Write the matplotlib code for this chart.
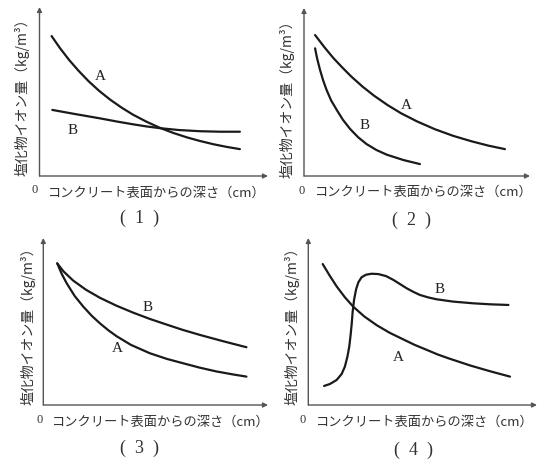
import matplotlib
matplotlib.use("Agg")
import matplotlib.pyplot as plt

plt.rcParams['font.family'] = ['Noto Sans CJK JP', 'DejaVu Sans']

W, H = 538, 461

# ---- data (arbitrary units) ----
# Panel (1)
p1_A_x = [0.53, 0.90, 1.30, 1.70, 2.14, 2.60, 3.09, 3.60, 4.09, 4.70,
          5.27, 5.85, 6.44, 7.00, 7.61, 8.20, 8.77]
p1_A_y = [8.28, 7.56, 6.86, 6.24, 5.62, 5.05, 4.52, 4.04, 3.63, 3.20,
          2.85, 2.55, 2.29, 2.08, 1.88, 1.72, 1.59]
p1_B_x = [0.56, 1.50, 2.65, 3.40, 4.09, 4.70, 5.27, 6.10, 7.02, 7.90, 8.77]
p1_B_y = [3.91, 3.68, 3.41, 3.22, 3.06, 2.93, 2.83, 2.72, 2.65, 2.62, 2.62]
# Panel (2)
p2_A_x = [0.49, 0.90, 1.30, 1.70, 2.10, 2.60, 3.10, 3.70, 4.30, 5.00,
          5.80, 6.60, 7.40, 8.15, 8.89]
p2_A_y = [8.39, 7.67, 7.02, 6.45, 5.91, 5.31, 4.78, 4.22, 3.73, 3.25,
          2.78, 2.39, 2.07, 1.81, 1.60]
p2_B_x = [0.49, 0.58, 0.71, 0.85, 1.00, 1.20, 1.45, 1.72, 2.04, 2.40,
          2.77, 3.20, 3.66, 4.40, 5.13]
p2_B_y = [7.60, 7.00, 6.31, 5.68, 5.12, 4.50, 3.93, 3.35, 2.80, 2.30,
          1.90, 1.55, 1.27, 0.95, 0.71]
# Panel (3)
p3_A_x = [0.62, 0.82, 1.04, 1.40, 1.78, 2.15, 2.52, 2.90, 3.26, 3.90,
          4.74, 5.50, 6.22, 6.95, 7.70, 8.40, 9.04]
p3_A_y = [8.48, 7.85, 7.29, 6.52, 5.89, 5.35, 4.89, 4.47, 4.12, 3.60,
          3.10, 2.76, 2.50, 2.24, 2.01, 1.84, 1.70]
p3_B_x = [0.62, 0.90, 1.33, 1.90, 2.52, 3.25, 4.00, 4.75, 5.48, 6.20,
          6.96, 8.00, 9.04]
p3_B_y = [8.48, 8.00, 7.45, 6.90, 6.42, 5.95, 5.53, 5.15, 4.82, 4.50,
          4.20, 3.82, 3.46]
# Panel (4)
p4_A_x = [0.63, 0.92, 1.24, 1.60, 1.97, 2.45, 2.99, 3.55, 4.15, 4.65,
          5.18, 5.65, 6.12, 7.07, 7.95, 8.82]
p4_A_y = [8.44, 7.78, 7.10, 6.45, 5.88, 5.30, 4.78, 4.33, 3.93, 3.60,
          3.30, 3.03, 2.80, 2.37, 2.02, 1.70]
p4_B_x = [0.69, 0.95, 1.24, 1.46, 1.60, 1.71, 1.79, 1.85, 1.90, 1.94,
          2.00, 2.09, 2.19, 2.33, 2.52, 2.77, 3.06, 3.40, 3.72, 4.00,
          4.30, 4.60, 4.88, 5.25, 5.61, 6.34, 7.21, 7.94, 8.75]
p4_B_y = [1.14, 1.26, 1.50, 1.86, 2.30, 2.89, 3.49, 4.19, 4.89, 5.59,
          6.29, 6.93, 7.35, 7.65, 7.80, 7.86, 7.84, 7.72, 7.49, 7.25,
          6.99, 6.77, 6.59, 6.44, 6.33, 6.19, 6.09, 6.03, 5.99]

panel_titles = ['(  1  )', '(  2  )', '(  3  )', '(  4  )']
xlabel_text = 'コンクリート表面からの深さ（cm）'
ylabel_text = '塩化物イオン量（kg/m³）'
series_names = ['A', 'B']

panels = [
    dict(A=(p1_A_x, p1_A_y), B=(p1_B_x, p1_B_y),
         box=(39.5, 176, 268, 7), labA=(2.65, 5.86), labB=(1.47, 2.72),
         ylab=(22, 94), xlab=(157, 193), zero=(35, 190), title=(140, 218)),
    dict(A=(p2_A_x, p2_A_y), B=(p2_B_x, p2_B_y),
         box=(304, 176, 530, 8), labA=(4.55, 4.2), labB=(2.7, 3.0),
         ylab=(287, 96), xlab=(424, 192), zero=(302, 191), title=(412, 220)),
    dict(A=(p3_A_x, p3_A_y), B=(p3_B_x, p3_B_y),
         box=(43.3, 405, 268, 238), labA=(3.28, 3.41), labB=(4.65, 5.81),
         ylab=(28, 323), xlab=(161, 422), zero=(40, 420), title=(140, 448)),
    dict(A=(p4_A_x, p4_A_y), B=(p4_B_x, p4_B_y),
         box=(308.3, 405, 537, 238), labA=(3.94, 2.85), labB=(5.76, 6.93),
         ylab=(292, 323), xlab=(425, 422), zero=(303, 420), title=(413, 450)),
]

fig = plt.figure(figsize=(W / 100, H / 100), dpi=100)
fig.patch.set_facecolor('white')


def fx(px):
    return px / W


def fy(py):
    return 1 - py / H


for p in panels:
    x0, y0, x1, y1 = p['box']
    ax = fig.add_axes([fx(x0), fy(y0), (x1 - x0) / W, (y0 - y1) / H])
    ax.set_xlim(0, 10)
    ax.set_ylim(0, 10)
    ax.axis('off')
    ax.patch.set_alpha(0)
    # axes with arrows
    ax.annotate('', xy=(1, 0), xytext=(0, 0), xycoords='axes fraction',
                arrowprops=dict(arrowstyle='-|>', lw=1.0, color='#555555',
                                mutation_scale=7, shrinkA=0, shrinkB=0))
    ax.annotate('', xy=(0, 1), xytext=(0, 0), xycoords='axes fraction',
                arrowprops=dict(arrowstyle='-|>', lw=1.0, color='#555555',
                                mutation_scale=7, shrinkA=0, shrinkB=0))
    for name in series_names:
        xs, ys = p[name]
        ax.plot(xs, ys, color='#1a1a1a', lw=1.6, solid_capstyle='round',
                solid_joinstyle='round', clip_on=False)
    ax.text(*p['labA'], 'A', fontsize=11, family='Liberation Serif',
            ha='center', va='center', color='#222222')
    ax.text(*p['labB'], 'B', fontsize=11, family='Liberation Serif',
            ha='center', va='center', color='#222222')
    fig.text(fx(p['ylab'][0]), fy(p['ylab'][1]), ylabel_text, rotation=90,
             fontsize=10, ha='center', va='center', color='#333333')
    fig.text(fx(p['xlab'][0]), fy(p['xlab'][1]), xlabel_text,
             fontsize=9.5, ha='center', va='center', color='#333333')
    fig.text(fx(p['zero'][0]), fy(p['zero'][1]), '0', family='Liberation Serif',
             fontsize=9, ha='center', va='center', color='#333333')

for p, t in zip(panels, panel_titles):
    fig.text(fx(p['title'][0]), fy(p['title'][1]), t, family='Liberation Serif',
             fontsize=13, ha='center', va='center', color='#333333')

fig.savefig('out.png', dpi=100, facecolor='white')
